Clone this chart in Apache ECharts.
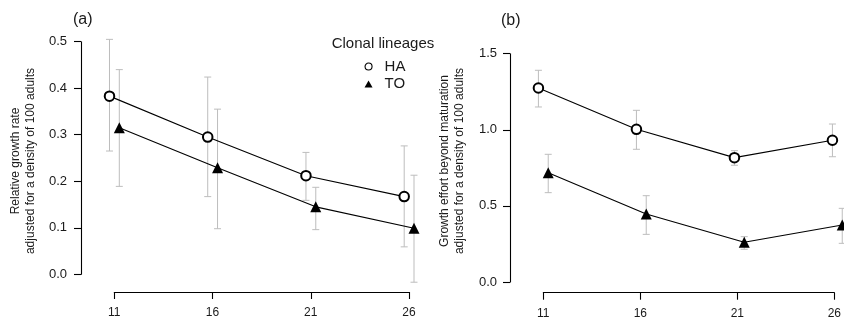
<!DOCTYPE html>
<html>
<head>
<meta charset="utf-8">
<script src="https://cdn.jsdelivr.net/npm/echarts@6/dist/echarts.min.js"></script>
<style>
html,body{margin:0;padding:0;background:#fff;}
#chart{width:844px;height:322px;}
</style>
</head>
<body>
<div id="chart"></div>
<script>
// ---- data ----
var temperatures = [11, 16, 21, 26];
var lineages = ['HA', 'TO'];

// (a) relative growth rate
var rgrHA     = [0.383, 0.295, 0.212, 0.167];
var rgrHALow  = [0.265, 0.167, 0.159, 0.059];
var rgrHAHigh = [0.505, 0.424, 0.262, 0.276];
var rgrTO     = [0.315, 0.229, 0.145, 0.099];
var rgrTOLow  = [0.189, 0.098, 0.096, -0.017];
var rgrTOHigh = [0.440, 0.355, 0.187, 0.213];

// (b) growth effort beyond maturation
var geHA     = [1.275, 1.003, 0.817, 0.931];
var geHALow  = [1.150, 0.872, 0.767, 0.823];
var geHAHigh = [1.391, 1.128, 0.863, 1.038];
var geTO     = [0.718, 0.447, 0.261, 0.375];
var geTOLow  = [0.587, 0.313, 0.215, 0.254];
var geTOHigh = [0.839, 0.567, 0.298, 0.484];

var leftYTicks = [0, 0.1, 0.2, 0.3, 0.4, 0.5];
var rightYTicks = [0, 0.5, 1.0, 1.5];

var yTitleA = 'Relative growth rate\nadjusted for a density of 100 adults';
var yTitleB = 'Growth effort beyond maturation\nadjusted for a density of 100 adults';

// ---- build ----
var DODGE = 0.25;
var FONT = "'Liberation Sans', Arial, Helvetica, sans-serif";
var TXT = '#1a1a1a';

function pts(vals, off) {
  return temperatures.map(function (t, i) { return [t + off, vals[i]]; });
}
function bars(lo, hi, off) {
  return temperatures.map(function (t, i) { return [t + off, lo[i], hi[i]]; });
}
function errRender(params, api) {
  var x = api.value(0);
  var p1 = api.coord([x, api.value(1)]);
  var p2 = api.coord([x, api.value(2)]);
  var cw = 3.5;
  var st = { stroke: '#bdbdbd', lineWidth: 1 };
  return {
    type: 'group',
    children: [
      { type: 'line', shape: { x1: p1[0], y1: p1[1], x2: p2[0], y2: p2[1] }, style: st },
      { type: 'line', shape: { x1: p1[0] - cw, y1: p1[1], x2: p1[0] + cw, y2: p1[1] }, style: st },
      { type: 'line', shape: { x1: p2[0] - cw, y1: p2[1], x2: p2[0] + cw, y2: p2[1] }, style: st }
    ]
  };
}
function errSeries(lo, hi, off, idx) {
  return {
    type: 'custom', xAxisIndex: idx, yAxisIndex: idx, z: 1, clip: false,
    renderItem: errRender, encode: { x: 0, y: [1, 2] }, data: bars(lo, hi, off),
    silent: true
  };
}
function lineSeries(name, vals, off, idx) {
  var isHA = name === 'HA';
  return {
    name: name, type: 'line', xAxisIndex: idx, yAxisIndex: idx, z: 3,
    data: pts(vals, off),
    symbol: isHA ? 'emptyCircle' : 'triangle',
    symbolSize: isHA ? 9.5 : 11,
    itemStyle: { color: '#000', borderColor: '#000', borderWidth: isHA ? 1 : 0 },
    lineStyle: { color: '#000', width: 1.1 },
    emphasis: { disabled: true }
  };
}
function yAxisDef(idx, min, max, interval, margin) {
  return {
    type: 'value', gridIndex: idx, min: min, max: max, interval: interval,
    splitLine: { show: false },
    axisLine: { show: true, lineStyle: { color: '#000', width: 1.1 } },
    axisTick: { show: true, length: 7, lineStyle: { color: '#000', width: 1.1 } },
    axisLabel: { margin: margin, fontSize: 13, fontFamily: FONT, color: TXT,
      formatter: function (v) { return v.toFixed(1); } }
  };
}
function xAxisAxisOnly(idx) {
  return {
    type: 'value', gridIndex: idx, position: 'bottom',
    min: temperatures[0], max: temperatures[temperatures.length - 1], interval: 5,
    splitLine: { show: false },
    axisLine: { show: true, lineStyle: { color: '#000', width: 1.1 } },
    axisTick: { show: true, length: 7, lineStyle: { color: '#000', width: 1.1 } },
    axisLabel: { margin: 15, fontSize: 12, fontFamily: FONT, color: TXT, showMinLabel: true, showMaxLabel: true }
  };
}

var option = {
  animation: false,
  backgroundColor: '#fff',
  title: [
    { text: '(a)', left: 73, top: 12, padding: 0,
      textStyle: { fontSize: 16, fontWeight: 'normal', fontFamily: FONT, color: TXT } },
    { text: '(b)', left: 501, top: 13, padding: 0,
      textStyle: { fontSize: 16, fontWeight: 'normal', fontFamily: FONT, color: TXT } },
    { text: 'Clonal lineages', left: 331.7, top: 36.5, padding: 0,
      textStyle: { fontSize: 15, fontWeight: 'normal', fontFamily: FONT, color: TXT } }
  ],
  legend: {
    orient: 'vertical', left: 364.5, top: 59, padding: 0,
    itemWidth: 8, itemHeight: 7, itemGap: 2.6,
    textStyle: { fontSize: 15, fontFamily: FONT, color: TXT, padding: [0, 0, 0, 7] },
    selectedMode: false,
    data: [
      { name: 'HA', icon: 'circle', itemStyle: { color: '#fff', borderColor: '#000', borderWidth: 1.1 } },
      { name: 'TO', icon: 'triangle', itemStyle: { color: '#000', borderWidth: 0 } }
    ]
  },
  graphic: [
    { type: 'text', x: 23.5, y: 161, rotation: Math.PI / 2, silent: true,
      style: { text: yTitleA, align: 'center', verticalAlign: 'middle',
        font: '12px ' + FONT, lineHeight: 15, fill: TXT } },
    { type: 'text', x: 452.5, y: 161, rotation: Math.PI / 2, silent: true,
      style: { text: yTitleB, align: 'center', verticalAlign: 'middle',
        font: '12px ' + FONT, lineHeight: 15, fill: TXT } }
  ],
  grid: [
    { left: 81, top: 41.7, width: 361.5, height: 232.6 },
    { left: 510, top: 53.7, width: 334, height: 228.3 },
    { left: 114.3, top: 291, width: 294.7, height: 1 },
    { left: 543.3, top: 291.7, width: 294, height: 1 }
  ],
  xAxis: [
    { type: 'value', gridIndex: 0, min: 9.3, max: 27.7, show: false },
    { type: 'value', gridIndex: 1, min: 9.3, max: 26.34, show: false },
    xAxisAxisOnly(2),
    xAxisAxisOnly(3)
  ],
  yAxis: [
    yAxisDef(0, leftYTicks[0], leftYTicks[leftYTicks.length - 1], 0.1, 14),
    yAxisDef(1, rightYTicks[0], rightYTicks[rightYTicks.length - 1], 0.5, 13),
    { type: 'value', gridIndex: 2, min: 0, max: 1, show: false },
    { type: 'value', gridIndex: 3, min: 0, max: 1, show: false }
  ],
  series: [
    errSeries(rgrHALow, rgrHAHigh, -DODGE, 0),
    errSeries(rgrTOLow, rgrTOHigh, DODGE, 0),
    lineSeries('HA', rgrHA, -DODGE, 0),
    lineSeries('TO', rgrTO, DODGE, 0),
    errSeries(geHALow, geHAHigh, -DODGE, 1),
    errSeries(geTOLow, geTOHigh, DODGE, 1),
    lineSeries('HA', geHA, -DODGE, 1),
    lineSeries('TO', geTO, DODGE, 1)
  ]
};

var chart = echarts.init(document.getElementById('chart'), null, { renderer: 'canvas' });
chart.setOption(option);
</script>
</body>
</html>
